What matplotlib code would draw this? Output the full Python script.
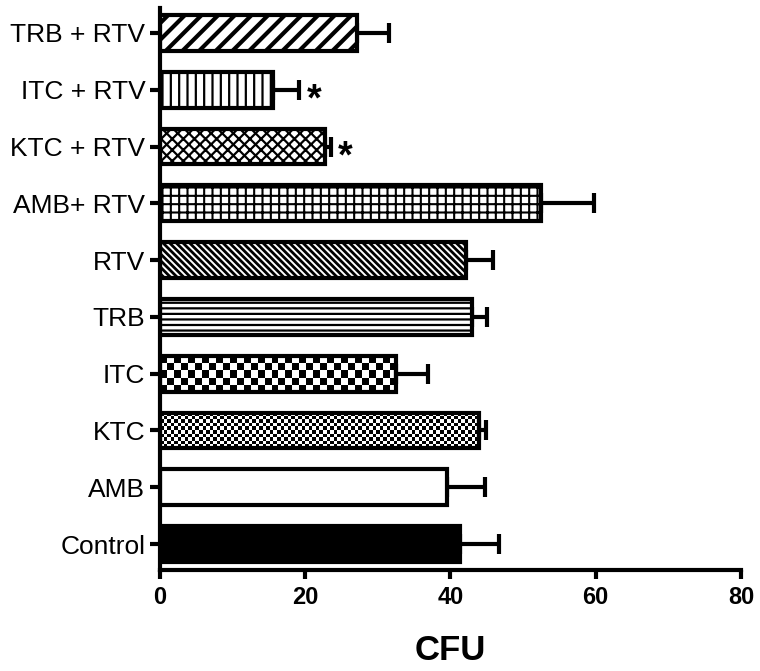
import numpy as np
import matplotlib
matplotlib.use("Agg")
import matplotlib.pyplot as plt

# treatment groups, bottom to top
groups = ["Control", "AMB", "KTC", "ITC", "TRB", "RTV",
          "AMB+ RTV", "KTC + RTV", "ITC + RTV", "TRB + RTV"]
cfu_mean = [41.3, 39.5, 43.9, 32.5, 42.9, 42.1, 52.4, 22.7, 15.5, 27.1]
cfu_sem = [5.4, 5.2, 1.0, 4.4, 2.1, 3.8, 7.4, 0.8, 3.7, 4.5]
significant = ["KTC + RTV", "ITC + RTV"]

x_ticks = [0, 20, 40, 60, 80]

# (face, hatch, hatch linewidth) per group; "checker" bars get an image fill
styles = {
    "Control": ("black", None, 1.0),
    "AMB": ("white", None, 1.0),
    "KTC": ("checker_fine", None, 1.0),
    "ITC": ("checker", None, 1.0),
    "TRB": ("white", "---", 1.6),
    "RTV": ("white", "\\\\\\\\\\", 2.0),
    "AMB+ RTV": ("white", "++", 1.5),
    "KTC + RTV": ("white", "xxx", 1.6),
    "ITC + RTV": ("white", "||", 1.6),
    "TRB + RTV": ("white", "//", 3.0),
}

plt.rcParams['font.family'] = ['Liberation Sans', 'DejaVu Sans']

fig = plt.figure(figsize=(7.6, 6.71), dpi=100)
ax = fig.add_axes([0.2105, 0.1505, 0.7645, 0.8376])

ypos = np.arange(len(groups))
bar_h = 0.63
bars = ax.barh(ypos, cfu_mean, height=bar_h, color="white",
               edgecolor="black", linewidth=3, zorder=2)

for bar, g in zip(bars, groups):
    face, hatch, hlw = styles[g]
    if face.startswith("checker"):
        bar.set_facecolor("none")
        ncol = 34 if face == "checker" else 90
        nrow = 5 if face == "checker" else 10
        board = np.indices((nrow, ncol)).sum(axis=0) % 2
        x0, y0 = bar.get_x(), bar.get_y()
        im = ax.imshow(board, cmap="gray", interpolation="nearest",
                       extent=(x0, x0 + bar.get_width(), y0, y0 + bar.get_height()),
                       aspect="auto", zorder=1)
        im.set_clip_path(bar)
    else:
        bar.set_facecolor(face)
    if hatch:
        bar.set_hatch(hatch)
        if hasattr(bar, "set_hatch_linewidth"):
            bar.set_hatch_linewidth(hlw)

ax.errorbar(cfu_mean, ypos, xerr=[np.zeros(len(cfu_sem)), cfu_sem],
            fmt="none", ecolor="black", elinewidth=3, capsize=7,
            capthick=3, zorder=1.5)

for g in significant:
    i = groups.index(g)
    ax.annotate("*", xy=(cfu_mean[i] + cfu_sem[i], ypos[i]),
                xytext=(5, -15), textcoords="offset points",
                ha="left", va="baseline", fontsize=27, fontweight="bold")

ax.set_xlim(0, 80)
ax.set_ylim(-0.458, 9.44)
ax.set_xticks(x_ticks)
ax.set_yticks(ypos)
ax.set_yticklabels(groups, fontsize=19)
ax.set_xticklabels([str(t) for t in x_ticks], fontsize=17, fontweight="bold")
ax.tick_params(axis="y", direction="out", length=7.5, width=3, pad=3)
ax.tick_params(axis="x", direction="out", length=6.5, width=3, pad=5)
ax.spines["top"].set_visible(False)
ax.spines["right"].set_visible(False)
ax.spines["left"].set_linewidth(3)
ax.spines["bottom"].set_linewidth(3)
ax.set_xlabel("CFU", fontsize=25, fontweight="bold", labelpad=18)

fig.savefig("out.png", dpi=100)
plt.close(fig)
